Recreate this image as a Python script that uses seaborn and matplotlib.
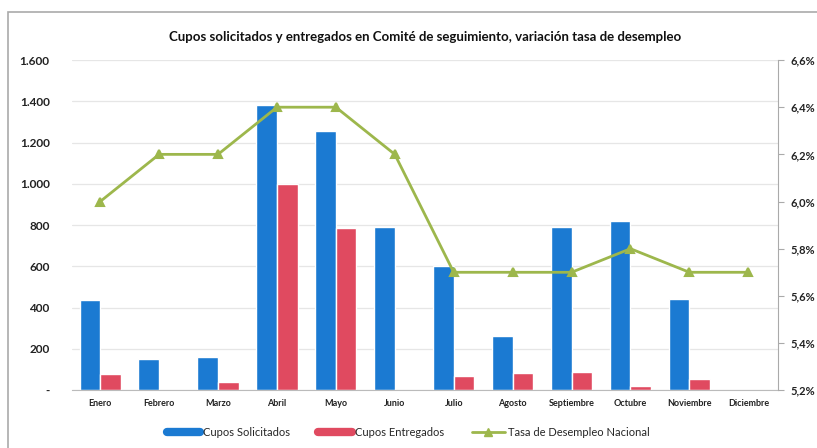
import pandas as pd
import matplotlib
matplotlib.use("Agg")
import matplotlib.pyplot as plt
import seaborn as sns
from matplotlib.ticker import FuncFormatter, MultipleLocator
from matplotlib.patches import Rectangle
from matplotlib.lines import Line2D

meses = ["Enero", "Febrero", "Marzo", "Abril", "Mayo", "Junio", "Julio",
         "Agosto", "Septiembre", "Octubre", "Noviembre", "Diciembre"]
cupos_solicitados = [435, 150, 160, 1380, 1255, 790, 600, 265, 790, 820, 440, 0]
cupos_entregados = [80, 0, 40, 1000, 785, 0, 70, 85, 90, 20, 55, 0]
tasa_desempleo = [6.0, 6.2, 6.2, 6.4, 6.4, 6.2, 5.7, 5.7, 5.7, 5.8, 5.7, 5.7]

azul = "#1b7ad2"
rojo = "#e04a60"
verde = "#9db74c"

sns.set_style("white")
plt.rcParams['font.family'] = ['Lato', 'DejaVu Sans']

df = pd.DataFrame({
    "mes": meses * 2,
    "valor": cupos_solicitados + cupos_entregados,
    "serie": ["Cupos Solicitados"] * 12 + ["Cupos Entregados"] * 12,
})

fig = plt.figure(figsize=(8.17, 4.48), dpi=100)
ax = fig.add_axes([0.088, 0.129, 0.864, 0.737])

sns.barplot(data=df, x="mes", y="valor", hue="serie", order=meses,
            palette=[azul, rojo], width=0.7, saturation=1, ax=ax, legend=False)
ax.set_ylim(0, 1600)
ax.yaxis.set_major_locator(MultipleLocator(200))
ax.yaxis.set_major_formatter(FuncFormatter(
    lambda v, p: "-" if v == 0 else f"{int(v):,}".replace(",", ".")))
ax.grid(axis="y", color="#e6e6e6", linewidth=0.9)
ax.set_axisbelow(True)
ax.set_xlabel("")
ax.set_ylabel("")
for s in ["left", "top", "right"]:
    ax.spines[s].set_visible(False)
ax.spines["bottom"].set_color("#bbbbbb")
ax.tick_params(axis="x", labelsize=6.5, length=0, pad=6)
ax.tick_params(axis="y", labelsize=8.5, length=0, pad=16)
for t in ax.get_xticklabels() + ax.get_yticklabels():
    t.set_fontweight("bold")
    t.set_color("#222222")

ax2 = ax.twinx()
sns.pointplot(x=meses, y=tasa_desempleo, order=meses, color=verde,
              markers="^", markersize=6, linewidth=2, ax=ax2)
ax2.set_ylim(5.2, 6.6)
ax2.yaxis.set_major_locator(MultipleLocator(0.2))
ax2.yaxis.set_major_formatter(FuncFormatter(
    lambda v, p: f"{v:.1f}".replace(".", ",") + "%"))
for s in ["left", "top", "bottom"]:
    ax2.spines[s].set_visible(False)
ax2.spines["right"].set_color("#aaaaaa")
ax2.tick_params(axis="y", labelsize=8, length=4, color="#aaaaaa", pad=5, direction="out")
for t in ax2.get_yticklabels():
    t.set_fontweight("bold")
    t.set_color("#222222")
ax.set_xlim(-0.48, 11.5)

ax.set_title("Cupos solicitados y entregados en Comité de seguimiento, variación tasa de desempleo",
             fontsize=9.5, fontweight="bold", pad=14, color="#111111")

handles = [
    Line2D([], [], color=azul, linewidth=6),
    Line2D([], [], color=rojo, linewidth=6),
    Line2D([], [], color=verde, linewidth=2, marker="^", markersize=6),
]
labels = ["Cupos Solicitados", "Cupos Entregados", "Tasa de Desempleo Nacional"]
leg = fig.legend(handles, labels, loc="center", bbox_to_anchor=(0.5, 0.035),
                 ncol=3, frameon=False, fontsize=8, handlelength=3,
                 columnspacing=2.5, handletextpad=0.3)

fig.patches.append(Rectangle((0.01, -0.1), 1.1, 1.073, transform=fig.transFigure,
                             fill=False, edgecolor="#aaaaaa", linewidth=1.2))

fig.savefig("out.png", dpi=100)
plt.close()
